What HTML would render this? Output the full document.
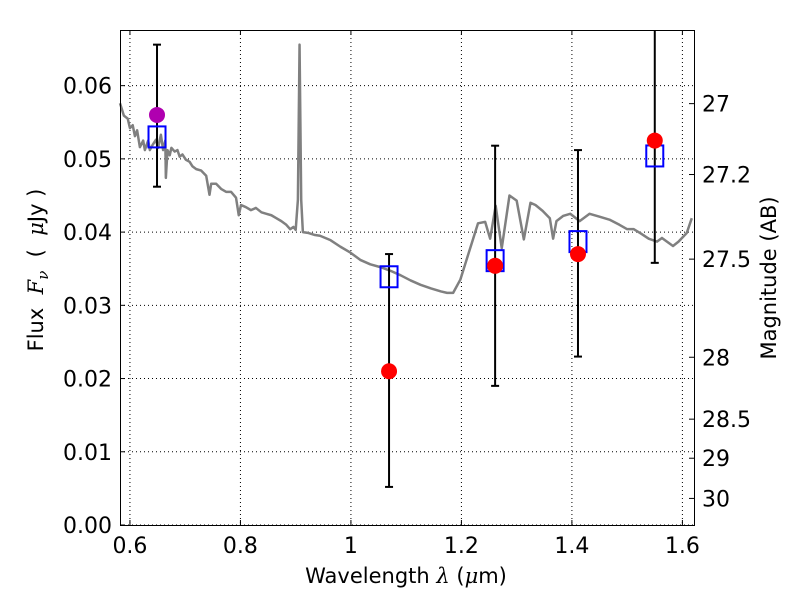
<!DOCTYPE html>
<html><head><meta charset="utf-8"><style>
body{margin:0;background:#fff}
svg{font-family:"DejaVu Sans","Liberation Sans",sans-serif}
</style></head><body>
<svg id="chart" width="800" height="600" xmlns="http://www.w3.org/2000/svg">
<rect width="800" height="600" fill="#fff"/>
<g id="grid"></g>
<g id="spec"></g>
<g id="pts"></g>
<rect x="120.5" y="30.5" width="574" height="495" fill="none" stroke="#000" stroke-width="1"/>
<g id="axes"></g>
<text x="406" y="583" font-size="21" text-anchor="middle">Wavelength  <tspan font-style="italic" font-family="DejaVu Serif,serif">λ</tspan> (<tspan font-style="italic" font-family="DejaVu Serif,serif">μ</tspan>m)</text>
<text transform="translate(43,270) rotate(-90)" font-size="21" text-anchor="middle" xml:space="preserve">Flux  <tspan font-style="italic" font-family="DejaVu Serif,serif">F</tspan><tspan font-style="italic" font-size="15" dy="5" font-family="DejaVu Serif,serif">ν</tspan><tspan dy="-5">  (  <tspan font-style="italic" font-family="DejaVu Serif,serif">μ</tspan>Jy )</tspan></text>
<text transform="translate(776,278) rotate(-90)" font-size="21" text-anchor="middle">Magnitude (AB)</text>
</svg>
<script>
const xTicks=[0.6,0.8,1.0,1.2,1.4,1.6];
const xTickLabels=["0.6","0.8","1","1.2","1.4","1.6"];
const yTicks=[0,0.01,0.02,0.03,0.04,0.05,0.06];
const yTickLabels=["0.00","0.01","0.02","0.03","0.04","0.05","0.06"];
const magTicks=[27,27.2,27.5,28,28.5,29,30];
const magTickLabels=["27","27.2","27.5","28","28.5","29","30"];
const specLam=[0.582,0.589,0.596,0.6,0.605,0.609,0.613,0.618,0.624,0.627,0.633,0.636,0.641,0.647,0.651,0.656,0.66,0.664,0.665,0.668,0.672,0.675,0.681,0.686,0.69,0.695,0.701,0.708,0.713,0.72,0.729,0.738,0.744,0.747,0.756,0.765,0.774,0.783,0.792,0.797,0.801,0.81,0.819,0.828,0.838,0.847,0.856,0.865,0.874,0.883,0.89,0.896,0.9,0.904,0.907,0.91,0.913,0.922,0.935,0.944,0.963,0.981,0.999,1.017,1.035,1.054,1.072,1.09,1.108,1.126,1.145,1.163,1.174,1.185,1.198,1.23,1.243,1.252,1.262,1.273,1.287,1.3,1.313,1.325,1.334,1.347,1.36,1.366,1.372,1.384,1.397,1.414,1.432,1.45,1.468,1.486,1.5,1.512,1.525,1.539,1.554,1.563,1.572,1.583,1.593,1.608,1.617];
const specFlux=[0.0576,0.0559,0.0555,0.0542,0.0546,0.0531,0.0539,0.0516,0.0525,0.0512,0.0525,0.0512,0.0519,0.0526,0.0515,0.0533,0.0512,0.0525,0.0474,0.0512,0.0505,0.0515,0.0510,0.0512,0.0503,0.0506,0.0499,0.0496,0.0490,0.0486,0.0484,0.0477,0.0451,0.0466,0.0466,0.0459,0.0455,0.0455,0.0447,0.0423,0.0437,0.0434,0.0430,0.0433,0.0427,0.0425,0.0423,0.0419,0.0415,0.0410,0.0404,0.0407,0.0403,0.0444,0.0656,0.0444,0.0400,0.0399,0.0396,0.0395,0.0389,0.0380,0.0372,0.0362,0.0356,0.0352,0.0347,0.0341,0.0334,0.0328,0.0323,0.0319,0.0317,0.0317,0.0335,0.0412,0.0414,0.0391,0.0436,0.0378,0.0450,0.0443,0.0390,0.0440,0.0437,0.0429,0.0419,0.0391,0.0415,0.0422,0.0425,0.0415,0.0425,0.0421,0.0417,0.0410,0.0404,0.0404,0.0398,0.0391,0.0387,0.0392,0.0387,0.0381,0.0387,0.0399,0.0419];
const photLam=[0.649,1.069,1.261,1.411,1.550];
const modelFlux=[0.0530,0.0339,0.0361,0.0387,0.0504];
const obsFlux=[0.0560,0.0210,0.0354,0.0370,0.0525];
const errHi=[0.0656,0.0370,0.0518,0.0512,0.0700];
const errLo=[0.0462,0.0052,0.0190,0.0230,0.0358];
const obsColor=["#b000b0","#ff0000","#ff0000","#ff0000","#ff0000"];

const X0=120,X1=694,Y0=525,Y1=30,XMIN=0.582,XMAX=1.621,YMAX=0.0676;
const xs=v=>X0+(v-XMIN)/(XMAX-XMIN)*(X1-X0);
const ys=v=>Y0-v/YMAX*(Y0-Y1);
const magToFlux=m=>Math.pow(10,(23.9-m)/2.5);
const NS="http://www.w3.org/2000/svg";
function mk(tag,attrs,parent){const e=document.createElementNS(NS,tag);for(const k in attrs)e.setAttribute(k,attrs[k]);parent.appendChild(e);return e;}
const grid=document.getElementById('grid'),axes=document.getElementById('axes'),spec=document.getElementById('spec'),pts=document.getElementById('pts');
xTicks.forEach((t,i)=>{const x=xs(t);
 const g=mk('line',{x1:x,x2:x,y1:Y1,y2:Y0,stroke:'#000','stroke-dasharray':'1,3','stroke-width':1},grid);
 
 
 mk('line',{x1:x,x2:x,y1:Y0,y2:Y0-5,stroke:'#000'},axes);
 mk('line',{x1:x,x2:x,y1:Y1,y2:Y1+5,stroke:'#000'},axes);
 const tx=mk('text',{x:x,y:Y0+28,'font-size':22,'text-anchor':'middle'},axes);tx.textContent=xTickLabels[i];
 
 
});
yTicks.forEach((t,i)=>{const y=ys(t);
 const g=mk('line',{x1:X0,x2:X1,y1:y,y2:y,stroke:'#000','stroke-dasharray':'1,3','stroke-width':1},grid);
 
 
 mk('line',{x1:X0,x2:X0+5,y1:y,y2:y,stroke:'#000'},axes);
 const tx=mk('text',{x:X0-8,y:y+8,'font-size':22,'text-anchor':'end'},axes);tx.textContent=yTickLabels[i];
 
 
});
magTicks.forEach((m,i)=>{const y=ys(magToFlux(m));
 mk('line',{x1:X1,x2:X1-5,y1:y,y2:y,stroke:'#000'},axes);
 const tx=mk('text',{x:X1+8,y:y+8,'font-size':22},axes);tx.textContent=magTickLabels[i];
 
 
});
const p=mk('polyline',{points:specLam.map((l,i)=>xs(l)+','+ys(specFlux[i])).join(' '),fill:'none',stroke:'#808080','stroke-width':2.5,'stroke-linejoin':'round'},spec);


photLam.forEach((l,i)=>{const x=xs(l);
 const bar=mk('g',{},pts);
 
 
 const yh=Math.max(ys(errHi[i]),Y1),yl=ys(errLo[i]);
 mk('line',{x1:x,x2:x,y1:yh,y2:yl,stroke:'#000','stroke-width':2},bar);
 if(ys(errHi[i])>=Y1)mk('line',{x1:x-4,x2:x+4,y1:yh,y2:yh,stroke:'#000','stroke-width':2},bar);
 mk('line',{x1:x-4,x2:x+4,y1:yl,y2:yl,stroke:'#000','stroke-width':2},bar);
 const r=mk('rect',{x:x-8.5,y:ys(modelFlux[i])-10.5,width:17,height:21,fill:'none',stroke:'#0000ff','stroke-width':2},pts);
 
 
 const c=mk('circle',{cx:x,cy:ys(obsFlux[i]),r:8,fill:obsColor[i]},pts);
 
 
});
</script>
</body></html>
